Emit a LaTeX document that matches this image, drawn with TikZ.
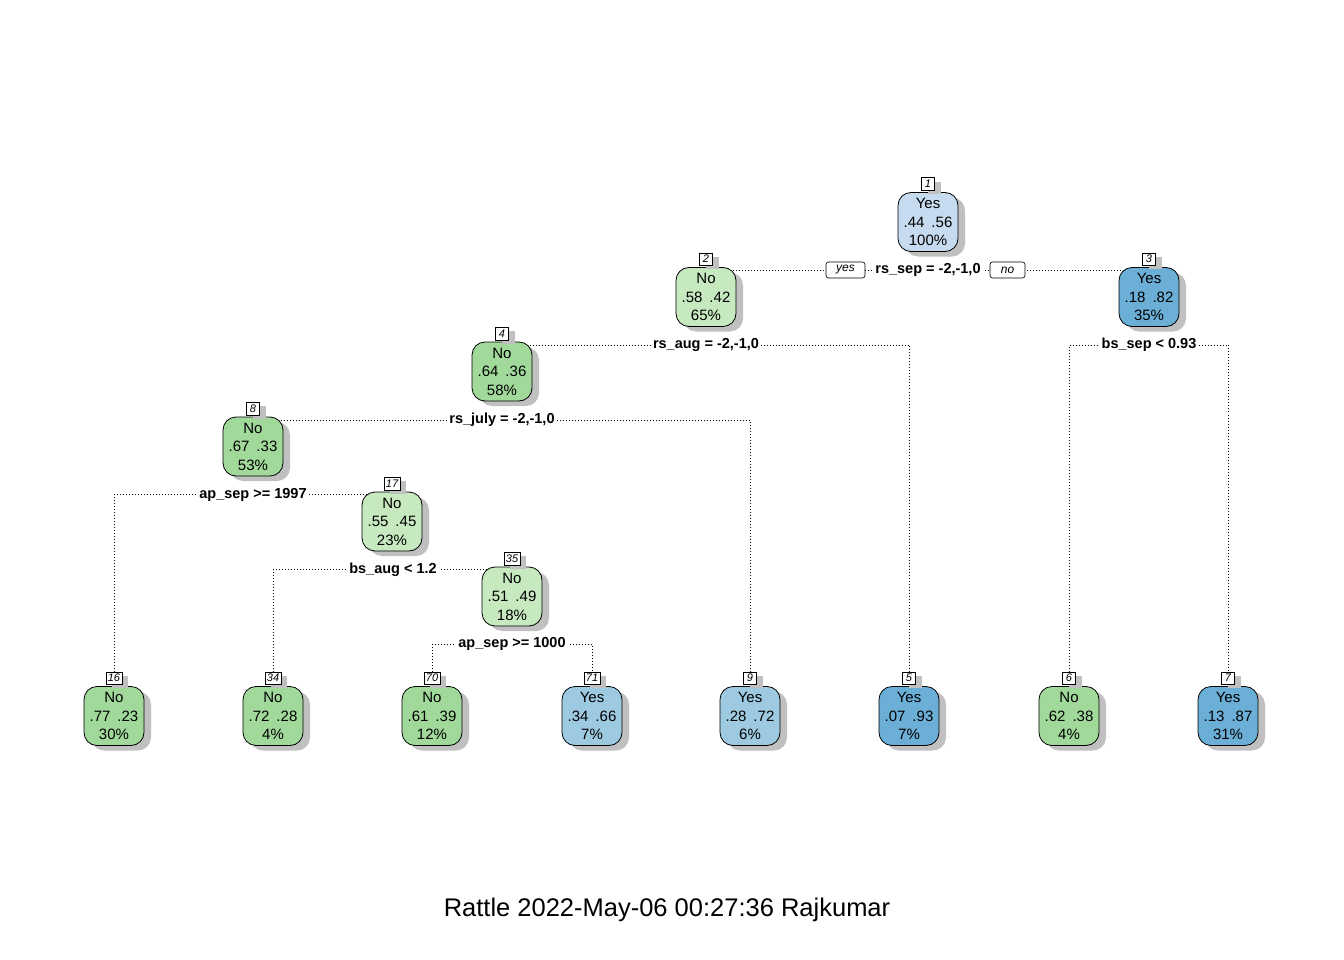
\documentclass[tikz,border=0pt]{standalone}
\usepackage{fontspec}
\setmainfont{Liberation Sans}
\usetikzlibrary{shadows,backgrounds}
\definecolor{cNoA}{HTML}{A1D99B}
\definecolor{cNoB}{HTML}{C7E9C0}
\definecolor{cYA}{HTML}{C6DBEF}
\definecolor{cYB}{HTML}{9ECAE1}
\definecolor{cYC}{HTML}{6BAED6}
\definecolor{shadowgray}{RGB}{192,192,192}
\begin{document}
\begin{tikzpicture}[x=1pt,y=-1pt,
  tnode/.style={draw=black, line width=0.8pt, rounded corners=13pt,
    minimum width=60pt, minimum height=59pt, inner sep=0pt, align=center,
    font=\fontsize{15}{18.5}\selectfont,
    drop shadow={shadow xshift=7pt, shadow yshift=-5pt, fill=shadowgray, opacity=1}},
  nlab/.style={draw=black, fill=white, line width=0.6pt, inner xsep=2pt, inner ysep=0pt,
    minimum width=13pt, minimum height=12.5pt,
    font=\fontsize{11}{11}\selectfont\itshape,
    drop shadow={shadow xshift=6pt, shadow yshift=-4pt, fill=shadowgray, opacity=1}},
  slab/.style={fill=white, inner sep=2pt, font=\fontsize{14.5}{14.5}\selectfont\bfseries},
  ynbox/.style={draw=black, fill=white, rounded corners=2.5pt, line width=0.6pt,
    minimum height=16pt, inner sep=0pt, font=\fontsize{12}{12}\selectfont\itshape},
  conn/.style={line width=0.7pt, dash pattern=on 0.9pt off 2.1pt}]
\useasboundingbox (0,0) rectangle (1344,960);

% internal nodes
\node[tnode, fill=cYA]  (n1)  at (928,222) {Yes\\.44\hspace{7pt}.56\\100\%};
\node[tnode, fill=cNoB] (n2)  at (706,297) {No\\.58\hspace{7pt}.42\\65\%};
\node[tnode, fill=cYC]  (n3)  at (1149,297) {Yes\\.18\hspace{7pt}.82\\35\%};
\node[tnode, fill=cNoA] (n4)  at (502,371.5) {No\\.64\hspace{7pt}.36\\58\%};
\node[tnode, fill=cNoA] (n8)  at (253,446.5) {No\\.67\hspace{7pt}.33\\53\%};
\node[tnode, fill=cNoB] (n17) at (392,521.5) {No\\.55\hspace{7pt}.45\\23\%};
\node[tnode, fill=cNoB] (n35) at (512,596.5) {No\\.51\hspace{7pt}.49\\18\%};
% leaves
\node[tnode, fill=cNoA] (l16) at (114,716) {No\\.77\hspace{7pt}.23\\30\%};
\node[tnode, fill=cNoA] (l34) at (273,716) {No\\.72\hspace{7pt}.28\\4\%};
\node[tnode, fill=cNoA] (l70) at (432,716) {No\\.61\hspace{7pt}.39\\12\%};
\node[tnode, fill=cYB]  (l71) at (592,716) {Yes\\.34\hspace{7pt}.66\\7\%};
\node[tnode, fill=cYB]  (l9)  at (750,716) {Yes\\.28\hspace{7pt}.72\\6\%};
\node[tnode, fill=cYC]  (l5)  at (909,716) {Yes\\.07\hspace{7pt}.93\\7\%};
\node[tnode, fill=cNoA] (l6)  at (1069,716) {No\\.62\hspace{7pt}.38\\4\%};
\node[tnode, fill=cYC]  (l7)  at (1228,716) {Yes\\.13\hspace{7pt}.87\\31\%};

% number labels
\node[nlab, anchor=south] (n1l)  at ([yshift=1.5pt]n1.north) {1};
\node[nlab, anchor=south] (n2l)  at ([yshift=1.5pt]n2.north) {2};
\node[nlab, anchor=south] (n3l)  at ([yshift=1.5pt]n3.north) {3};
\node[nlab, anchor=south] (n4l)  at ([yshift=1.5pt]n4.north) {4};
\node[nlab, anchor=south] (n8l)  at ([yshift=1.5pt]n8.north) {8};
\node[nlab, anchor=south] (n17l) at ([yshift=1.5pt]n17.north) {17};
\node[nlab, anchor=south] (n35l) at ([yshift=1.5pt]n35.north) {35};
\node[nlab, anchor=south] (l16l) at ([yshift=1.5pt]l16.north) {16};
\node[nlab, anchor=south] (l34l) at ([yshift=1.5pt]l34.north) {34};
\node[nlab, anchor=south] (l70l) at ([yshift=1.5pt]l70.north) {70};
\node[nlab, anchor=south] (l71l) at ([yshift=1.5pt]l71.north) {71};
\node[nlab, anchor=south] (l9l)  at ([yshift=1.5pt]l9.north) {9};
\node[nlab, anchor=south] (l5l)  at ([yshift=1.5pt]l5.north) {5};
\node[nlab, anchor=south] (l6l)  at ([yshift=1.5pt]l6.north) {6};
\node[nlab, anchor=south] (l7l)  at ([yshift=1.5pt]l7.north) {7};

% split labels
\node[slab] (s1)  at (928,270) {rs\_sep = -2,-1,0};
\node[ynbox, minimum width=39pt] (yes) at (845.5,270) {yes};
\node[ynbox, minimum width=35pt] (no)  at (1007.5,270) {no};
\node[slab] (s2)  at (706,345) {rs\_aug = -2,-1,0};
\node[slab] (s3)  at (1149,345) {bs\_sep < 0.93};
\node[slab] (s4)  at (502,420) {rs\_july = -2,-1,0};
\node[slab] (s8)  at (253,494.5) {ap\_sep >= 1997};
\node[slab] (s17) at (393,569.5) {bs\_aug < 1.2};
\node[slab] (s35) at (512,644) {ap\_sep >= 1000};

% connectors
\begin{scope}[on background layer]
\draw[conn] (n2.center) |- (s1.center) -| (n3.center);
\draw[conn] (n4.center) |- (s2.center) -| (l5l.north);
\draw[conn] (l6l.north) |- (s3.center) -| (l7l.north);
\draw[conn] (n8.center) |- (s4.center) -| (l9l.north);
\draw[conn] (l16l.north) |- (s8.center) -| (n17.center);
\draw[conn] (l34l.north) |- (s17.center) -| (n35.center);
\draw[conn] (l70l.north) |- (s35.center) -| (l71l.north);
\end{scope}

% title
\node[font=\fontsize{25.5}{25.5}\selectfont] (title) at (667,910) {Rattle 2022-May-06 00:27:36 Rajkumar};
\end{tikzpicture}
\end{document}
